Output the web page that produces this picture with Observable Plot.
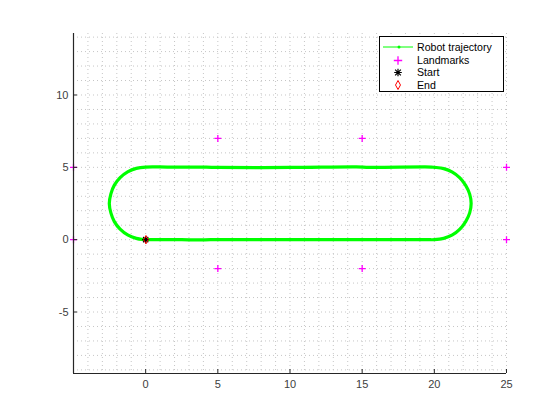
<!DOCTYPE html>
<html>
<head>
<meta charset="utf-8">
<script src="https://cdn.jsdelivr.net/npm/d3@7"></script>
<script src="https://cdn.jsdelivr.net/npm/@observablehq/plot@0.6"></script>
<style>
  html, body { margin: 0; padding: 0; background: #fff; }
  #wrap { position: relative; width: 560px; height: 420px; font-family: "Liberation Sans", Arial, sans-serif; }
  #legend { position: absolute; left: 379px; top: 36px; }
</style>
</head>
<body>
<div id="wrap"></div>
<script>
// ---- data ----
const trajX = [0, 2.5, 3.5, 4.5, 5, 10, 14.5, 15.5, 19.5, 20,
  20.65, 21.25, 21.77, 22.17, 22.45, 22.55, 22.45, 22.17, 21.77, 21.25, 20.65, 20,
  19.8, 15.5, 14.6, 10, 5, 4.2, 1.5, 0,
  -0.65, -1.25, -1.77, -2.17, -2.41, -2.52, -2.41, -2.17, -1.77, -1.25, -0.65, -0.2, 0];
const trajY = [0, 0, -0.02, 0, 0, 0, 0, 0.01, 0, 0,
  0.09, 0.33, 0.73, 1.25, 1.85, 2.5, 3.15, 3.75, 4.27, 4.67, 4.91, 5.0,
  5.02, 5.0, 5.03, 4.99, 4.99, 5.01, 5.02, 5.02,
  4.93, 4.69, 4.29, 3.77, 3.17, 2.5, 1.85, 1.25, 0.73, 0.33, 0.09, 0.01, 0];
const landmarkX = [-5, -5, 5, 15, 5, 15, 25, 25];
const landmarkY = [5, 0, 7, 7, -2, -2, 5, 0];
const startX = [0], startY = [0];
const endX = [0.02], endY = [0];
const xTicks = [0, 5, 10, 15, 20, 25];
const yTicks = [-5, 0, 5, 10];
const xDomain = [-5, 25];
const yDomain = [-9.25, 14.25];
const seriesNames = ["Robot trajectory", "Landmarks", "Start", "End"];

const traj = trajX.map((x, i) => ({x, y: trajY[i]}));
const landmarks = landmarkX.map((x, i) => ({x, y: landmarkY[i]}));
const starts = startX.map((x, i) => ({x, y: startY[i]}));
const ends = endX.map((x, i) => ({x, y: endY[i]}));

// custom symbols
const rOf = s => Math.sqrt(s / Math.PI);
const plusSym = { draw(ctx, size) { const r = rOf(size);
  ctx.moveTo(-r, 0); ctx.lineTo(r, 0); ctx.moveTo(0, -r); ctx.lineTo(0, r); } };
const starSym = { draw(ctx, size) { const r = rOf(size), d = r * 0.75;
  ctx.moveTo(-r, 0); ctx.lineTo(r, 0); ctx.moveTo(0, -r); ctx.lineTo(0, r);
  ctx.moveTo(-d, -d); ctx.lineTo(d, d); ctx.moveTo(-d, d); ctx.lineTo(d, -d); } };
const diamondSym = { draw(ctx, size) { const r = rOf(size);
  ctx.moveTo(0, -r); ctx.lineTo(r * 0.55, 0); ctx.lineTo(0, r); ctx.lineTo(-r * 0.55, 0); ctx.closePath(); } };

const minorX = d3.range(xDomain[0], xDomain[1] + 1, 1);
const minorY = d3.range(Math.ceil(yDomain[0]), yDomain[1], 1);

const W = 560, H = 420, mL = 73, mR = 54, mT = 33, mB = 47;
const pw = W - mL - mR, ph = H - mT - mB;

const chart = Plot.plot({
  width: W, height: H,
  marginLeft: mL, marginRight: mR, marginTop: mT, marginBottom: mB,
  style: { fontFamily: "Liberation Sans, Arial, sans-serif", fontSize: "11px", color: "#404040", background: "#fff" },
  x: { domain: xDomain, axis: null },
  y: { domain: yDomain, axis: null },
  marks: [
    Plot.gridX(minorX, { stroke: "#c6c6c6", strokeOpacity: 1, strokeDasharray: "1,3" }),
    Plot.gridY(minorY, { stroke: "#c6c6c6", strokeOpacity: 1, strokeDasharray: "1,3" }),
    Plot.line(traj, { x: "x", y: "y", stroke: "#00ff00", strokeWidth: 3.2, curve: "catmull-rom" }),
    Plot.dot(landmarks, { x: "x", y: "y", symbol: plusSym, r: 3.5, stroke: "#ff00ff", strokeWidth: 1.3, fill: "none" }),
    Plot.dot(starts, { x: "x", y: "y", symbol: starSym, r: 3.5, stroke: "#000", strokeWidth: 1.2, fill: "none" }),
    Plot.dot(ends, { x: "x", y: "y", symbol: diamondSym, r: 4.2, stroke: "#ff0000", strokeWidth: 1, fill: "none" }),
    Plot.ruleX([xDomain[0]], { stroke: "#262626", strokeWidth: 1.2 }),
    Plot.ruleY([yDomain[0]], { stroke: "#262626", strokeWidth: 1.2 }),
    Plot.tickX(xTicks, { x: d => d, insetTop: ph - 4, stroke: "#262626" }),
    Plot.tickY(yTicks, { y: d => d, insetRight: pw - 4, stroke: "#262626" }),
    Plot.axisX({ ticks: xTicks, tickSize: 0, tickPadding: 7, fontSize: 11, tickFormat: d => d, label: null }),
    Plot.axisY({ ticks: yTicks, tickSize: 0, tickPadding: 5, fontSize: 11, tickFormat: d => d, label: null })
  ]
});
document.getElementById("wrap").appendChild(chart);

// legend (inside the axes, top right)
const lw = 125, lh = 56, rowsY = [11, 24.5, 36.5, 49];
const lg = d3.select("#wrap").append("svg").attr("id", "legend")
  .attr("width", lw).attr("height", lh);
lg.append("rect").attr("x", 0.5).attr("y", 0.5).attr("width", lw - 1).attr("height", lh - 1)
  .attr("fill", "#fff").attr("stroke", "#000").attr("stroke-width", 1);
const sx = 19;
lg.append("line").attr("x1", 4).attr("x2", 34).attr("y1", rowsY[0]).attr("y2", rowsY[0])
  .attr("stroke", "#00ff00").attr("stroke-width", 1);
lg.append("circle").attr("cx", sx + 1).attr("cy", rowsY[0]).attr("r", 1.5).attr("fill", "#00ff00");
lg.append("path").attr("d", d3.symbol(plusSym, Math.PI * 4.2 * 4.2)()).attr("transform", `translate(${sx},${rowsY[1]})`)
  .attr("stroke", "#ff00ff").attr("stroke-width", 1.3).attr("fill", "none");
lg.append("path").attr("d", d3.symbol(starSym, Math.PI * 3.8 * 3.8)()).attr("transform", `translate(${sx},${rowsY[2]})`)
  .attr("stroke", "#000").attr("stroke-width", 1.2).attr("fill", "none");
lg.append("path").attr("d", d3.symbol(diamondSym, Math.PI * 4.5 * 4.5)()).attr("transform", `translate(${sx},${rowsY[3]})`)
  .attr("stroke", "#ff0000").attr("stroke-width", 1).attr("fill", "none");
seriesNames.forEach((t, i) => {
  lg.append("text").attr("x", 38).attr("y", rowsY[i]).attr("dy", "0.35em")
    .attr("font-size", "10.6px").attr("font-family", "Liberation Sans, Arial, sans-serif")
    .attr("fill", "#000").text(t);
});
</script>
</body>
</html>
